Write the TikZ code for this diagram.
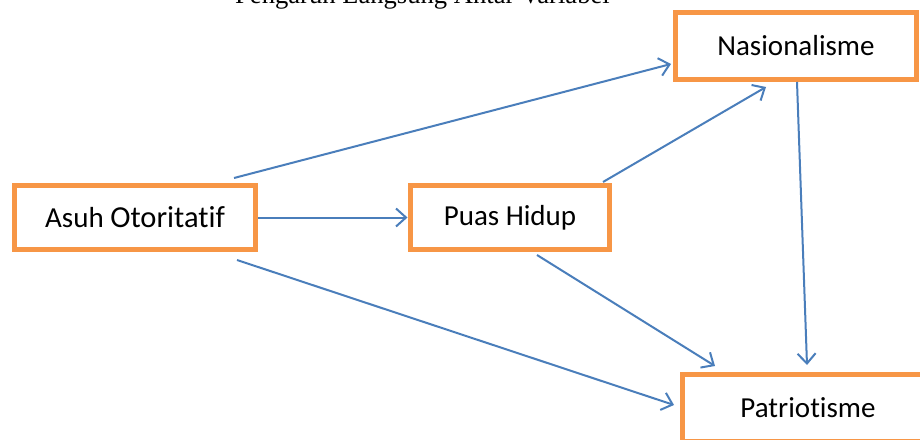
\documentclass[tikz,border=0pt]{standalone}
\usepackage{fontspec}
\setmainfont{Carlito}[Ligatures=NoCommon]
\newfontfamily\titlefont{Liberation Serif}
\usetikzlibrary{arrows.meta,calc}
\definecolor{boxorange}{HTML}{F79646}
\definecolor{linkblue}{HTML}{4A7EBB}
\tikzset{
  varbox/.style={draw=boxorange, line width=4.8pt, fill=white, outer sep=0pt,
    inner sep=0pt, font=\fontsize{29}{35}\selectfont},
  link/.style={draw=linkblue, line width=2pt,
    -{Straight Barb[length=10pt,width=18pt,line width=2pt]}}
}
\begin{document}
\begin{tikzpicture}[x=1pt,y=-1pt]
  \useasboundingbox (0,0) rectangle (920,439);
  \clip (0,0) rectangle (920,439);

  % heading, partly cut off at the top edge
  \node[anchor=base west, inner sep=0pt, font=\titlefont\fontsize{26.6}{30}\selectfont]
    (title) at (235,3) {Pengaruh Langsung Antar Variabel};

  % variables
  \node[varbox, minimum width=241pt, minimum height=64pt] (asuh) at (135,217.5)
    {Asuh {\fontsize{30.5}{35}\selectfont Otoritatif}};
  \node[varbox, minimum width=199pt, minimum height=64pt] (puas) at (510,217.5) {Puas Hidup};
  \node[varbox, minimum width=241pt, minimum height=67pt] (nas) at (796,46) {Nasionalisme};
  \node[varbox, minimum width=251pt, minimum height=67pt] (patr) at (808,408) {Patriotisme};

  % direct effects
  \draw[link] ($(asuh.north east)+(-21.5,-7.5)$) -- ($(nas.south west)+(-4.5,-15.5)$);
  \draw[link] ($(asuh.east)+(2.5,0)$) -- ($(puas.west)+(-3,0)$);
  \draw[link] ($(asuh.south east)+(-18.5,10.5)$) -- ($(patr.west)+(-8.5,-3)$);
  \draw[link] ($(puas.north east)+(-6.5,-3.5)$) -- ($(nas.south)+(-30,7.5)$);
  \draw[link] ($(puas.south)+(27,5.5)$) -- ($(patr.north west)+(32.5,-8.5)$);
  \draw[link] ($(nas.south)+(1,2.5)$) -- ($(patr.north)+(-1,-9.5)$);
\end{tikzpicture}
\end{document}
